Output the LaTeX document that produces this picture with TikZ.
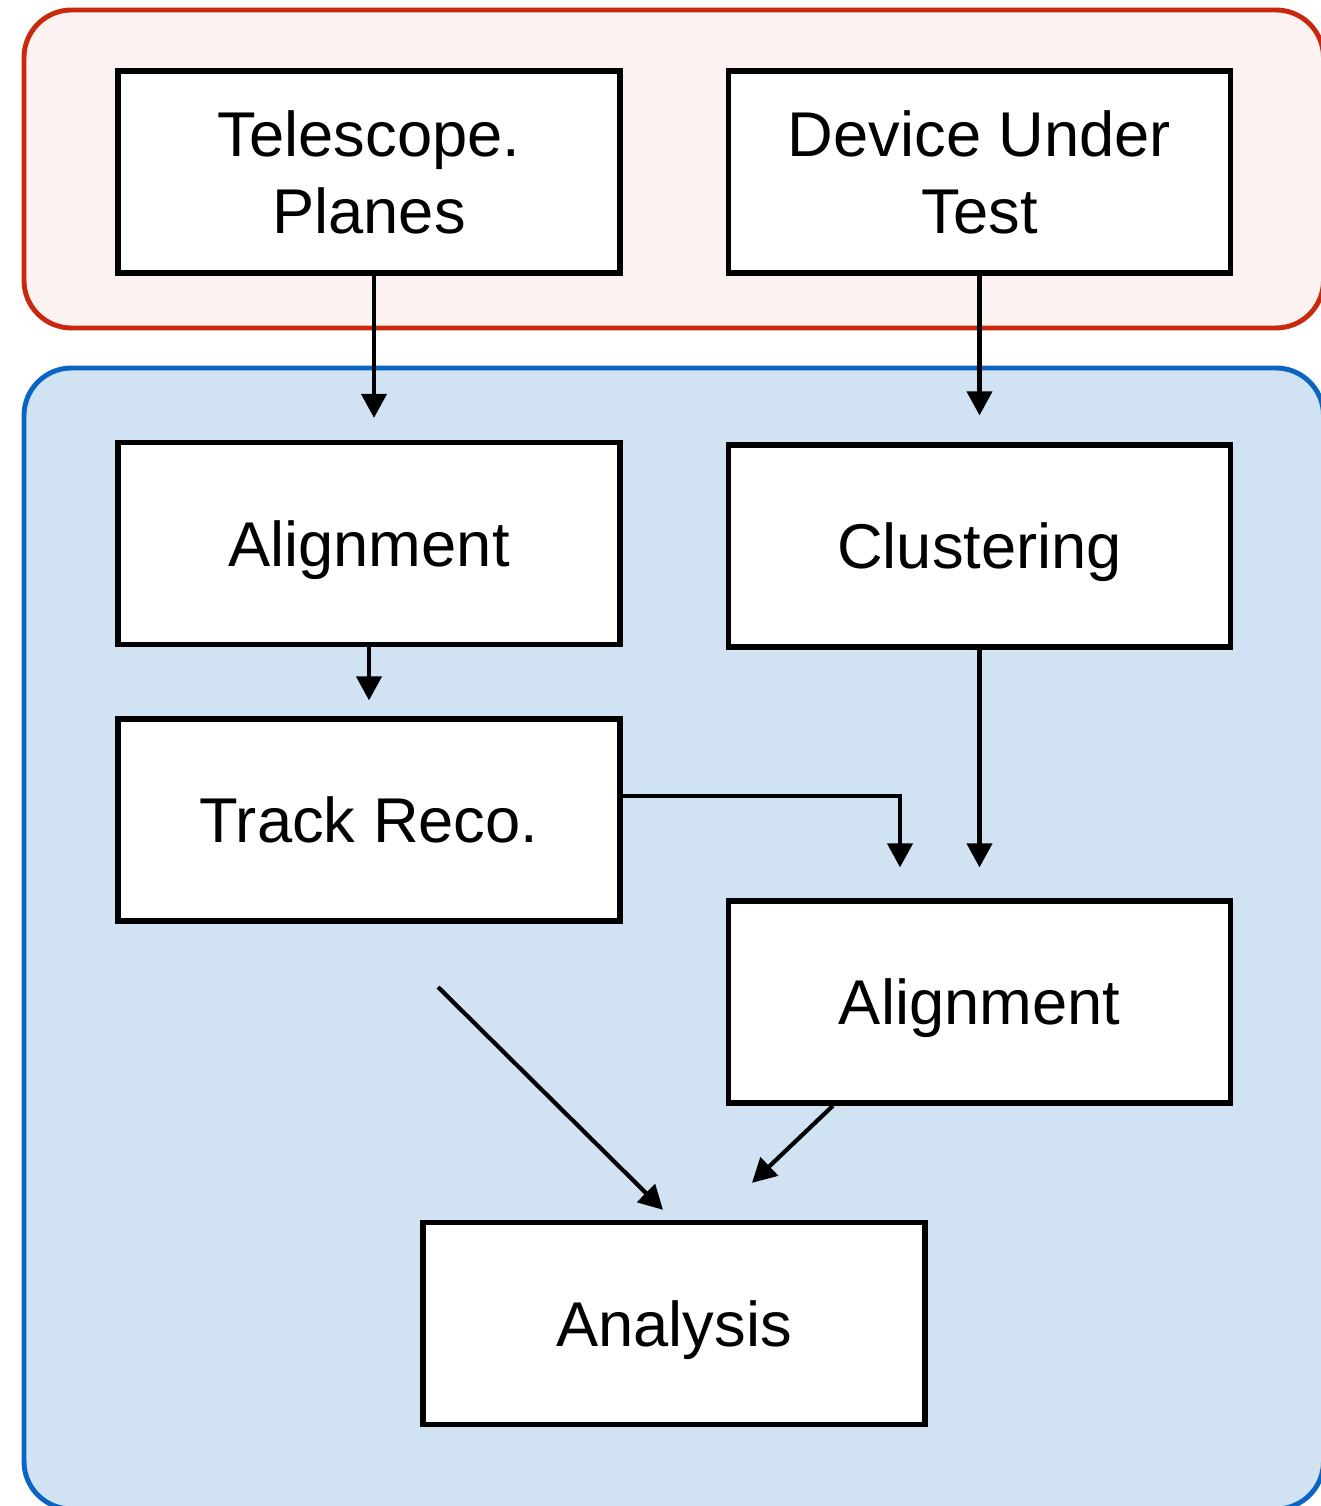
\documentclass[tikz,border=0pt]{standalone}
\usepackage{fontspec}
\setmainfont{Liberation Sans}
\usetikzlibrary{arrows.meta, positioning, calc}
\definecolor{inred}{HTML}{C8290E}
\definecolor{inredbg}{HTML}{FBF2F1}
\definecolor{procblue}{HTML}{0A64C4}
\definecolor{procbluebg}{HTML}{D1E2F2}

\begin{document}
\begin{tikzpicture}[
  >={Triangle[length=0.48cm, width=0.5cm]},
  stage/.style={draw=black, fill=white, line width=3pt,
    minimum width=10.04cm, minimum height=4.04cm, align=center,
    text depth=0pt, font=\fontsize{36}{44}\selectfont},
  arr/.style={->, line width=2.4pt},
]

% Canvas
\useasboundingbox (0,0) rectangle (26.4,-30.12);

% Input group
\draw[inred, fill=inredbg, line width=2.8pt, rounded corners=0.95cm]
  (0.48,-0.2) rectangle (26.47,-6.56);

% Processing group
\draw[procblue, fill=procbluebg, line width=2.8pt, rounded corners=0.95cm]
  (0.48,-7.36) rectangle (26.47,-30.18);

% --- Stages ---
\node[stage] (tele)   at (7.38,-3.44)   {Telescope.\\Planes};
\node[stage] (dut)    at (19.59,-3.44)  {Device Under\\Test};
\node[stage] (align1) at (7.38,-10.87)  {Alignment};
\node[stage] (clust)  at (19.59,-10.92) {Clustering};
\node[stage] (track)  at (7.38,-16.4)   {Track Reco.};
\node[stage] (align2) at (19.59,-20.04) {Alignment};
\node[stage] (ana)    at (13.48,-26.47) {Analysis};

% Free start of the diagonal connector
\coordinate (trkout) at (8.76,-19.74);

% --- Connectors ---
\draw[arr] ([xshift=0.1cm]tele.south) -- ([xshift=0.1cm, yshift=0.44cm]align1.north);
\draw[arr] (dut.south) -- ([yshift=0.54cm]clust.north);
\draw[arr] (align1.south) -- ([yshift=0.32cm]track.north);
\draw[arr] ([yshift=0.48cm]track.east) -| ([xshift=-1.59cm, yshift=0.62cm]align2.north);
\draw[arr] (clust.south) -- ([yshift=0.62cm]align2.north);
\draw[arr] (trkout) -- ([xshift=-0.22cm, yshift=0.2cm]ana.north);
\draw[arr] ([xshift=-2.93cm]align2.south) -- ([xshift=1.56cm, yshift=0.74cm]ana.north);

\end{tikzpicture}
\end{document}
